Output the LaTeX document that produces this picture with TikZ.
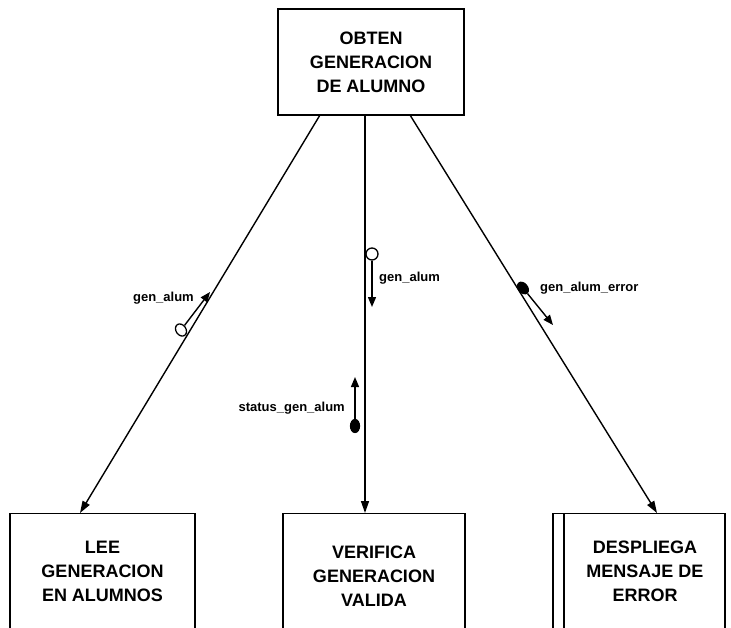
\documentclass[tikz,border=0pt]{standalone}
\usepackage{fontspec}
\setmainfont{Liberation Sans}
\usetikzlibrary{arrows.meta,calc,shapes.geometric}

\tikzset{
  x=1pt, y=-1pt,
  modbox/.style={draw, line width=1.4pt, minimum width=186pt, minimum height=106pt, inner sep=0pt},
  boxtext/.style={align=center, font=\fontsize{18}{24}\selectfont\bfseries, inner sep=0pt},
  call/.style={line width=1.4pt, -{Triangle[length=12pt,width=8pt]}},
  flow/.style={line width=1.4pt, -{Triangle[length=10pt,width=8pt]}},
  datacpl/.style={draw, circle, line width=1.3pt, fill=white, minimum size=12pt, inner sep=0pt},
  ctrlcpl/.style={draw, ellipse, line width=1.2pt, fill=black, minimum width=9pt, minimum height=13pt, inner sep=0pt},
  cpltext/.style={font=\fontsize{13}{15}\selectfont\bfseries, inner sep=0pt},
}

\begin{document}
\begin{tikzpicture}
\useasboundingbox (0,0) rectangle (731,627);

% calling module
\node[modbox] (obten) at (371,62) {};
\node[boxtext] (obtentxt) at (obten.center) {OBTEN\\GENERACION\\DE ALUMNO};

% called modules (their lower parts run past the page edge)
\node[modbox, minimum width=185pt, minimum height=140pt, anchor=north] (lee) at (102.5,513) {};
\node[boxtext] (leetxt) at (102.5,571) {LEE\\GENERACION\\EN ALUMNOS};

\node[modbox, minimum width=182pt, minimum height=140pt, anchor=north] (verif) at (374,513) {};
\node[boxtext] (veriftxt) at (374,576) {VERIFICA\\GENERACION\\VALIDA};

\node[modbox, minimum width=172pt, minimum height=140pt, anchor=north] (desp) at (639,513) {};
\draw[line width=1.4pt] (564,513) -- (564,653);
\node[boxtext] (desptxt) at (645,571) {DESPLIEGA\\MENSAJE DE\\ERROR};

% call connectors
\coordinate (o1) at (320,115);
\coordinate (o2) at (365,115);
\coordinate (o3) at (410,115);
\coordinate (t1) at (80,513);
\coordinate (t2) at (365,513);
\coordinate (t3) at (657,513);
\draw[call] (o1) -- (t1);
\draw[call] (o2) -- (t2);
\draw[call] (o3) -- (t3);

% couple: gen_alum returned from LEE
\node[datacpl, ellipse, minimum width=10pt, minimum height=13pt, rotate=35] (c1) at (181,330) {};
\coordinate (c1e) at (210,292);
\draw[flow] (c1) -- (c1e);
\node[cpltext, anchor=east] (l1) at (194,298) {gen\_alum};

% couple: gen_alum passed to VERIFICA
\node[datacpl] (c2) at (372,254) {};
\coordinate (c2e) at (372,307);
\draw[flow] (c2) -- (c2e);
\node[cpltext, anchor=west] (l2) at (379,278) {gen\_alum};

% couple: status_gen_alum returned from VERIFICA
\node[ctrlcpl] (c4) at (355,426) {};
\coordinate (c4e) at (355,377);
\draw[flow] (c4) -- (c4e);
\node[cpltext, anchor=east] (l4) at (345,408) {status\_gen\_alum};

% couple: gen_alum_error passed to DESPLIEGA
\node[ctrlcpl, rotate=40] (c3) at (523,288) {};
\coordinate (c3e) at (553,325);
\draw[flow] (c3) -- (c3e);
\node[cpltext, anchor=west] (l3) at (540,288) {gen\_alum\_error};
\end{tikzpicture}
\end{document}
